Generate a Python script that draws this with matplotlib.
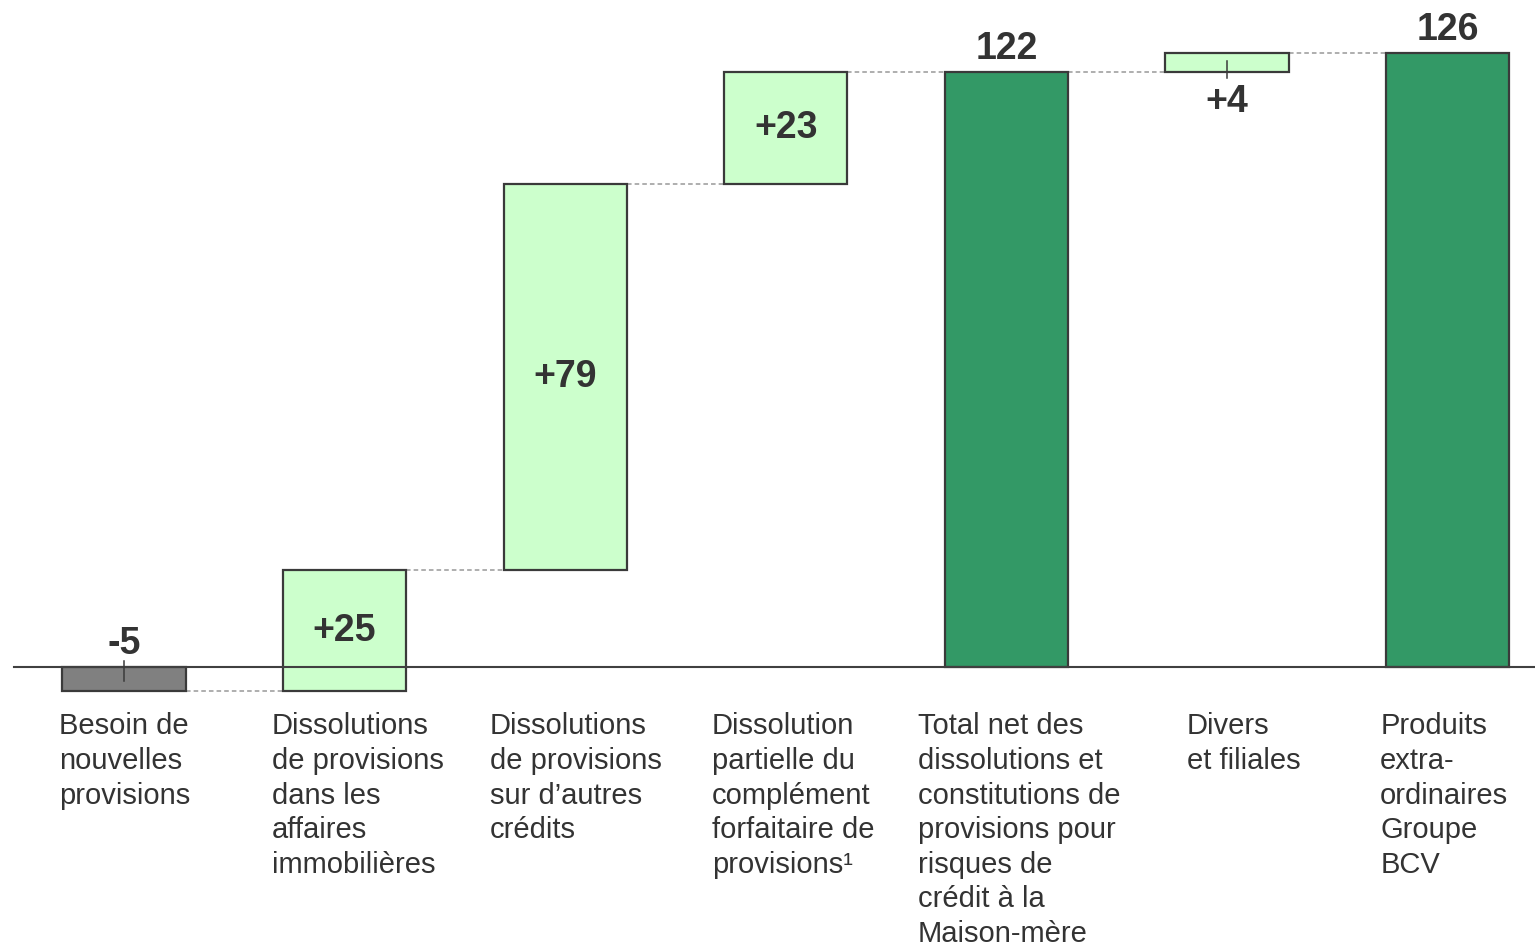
import numpy as np
import matplotlib
matplotlib.use("Agg")
import matplotlib.pyplot as plt

plt.rcParams['font.family'] = ['Liberation Sans', 'DejaVu Sans']

# ---------------- DATA ----------------
categories = [
    "Besoin de\nnouvelles\nprovisions",
    "Dissolutions\nde provisions\ndans les\naffaires\nimmobilières",
    "Dissolutions\nde provisions\nsur d\u2019autres\ncrédits",
    "Dissolution\npartielle du\ncomplément\nforfaitaire de\nprovisions\u00b9",
    "Total net des\ndissolutions et\nconstitutions de\nprovisions pour\nrisques de\ncrédit à la\nMaison-mère",
    "Divers\net filiales",
    "Produits\nextra-\nordinaires\nGroupe\nBCV",
]
values = [-5, 25, 79, 23, 122, 4, 126]
is_total = [False, False, False, False, True, False, True]
value_labels = ["-5", "+25", "+79", "+23", "122", "+4", "126"]

# ---------------- STYLE ----------------
LIGHT = "#CCFFCC"
DARK = "#339966"
GREY = "#808080"
EDGE = "#3a3a3a"
TEXT = "#333333"
BAR_W = 0.558
LABEL_DX = [-0.295, -0.329, -0.341, -0.335, -0.401, -0.181, -0.306]

# ---------------- WATERFALL ----------------
bottoms, tops = [], []
level = 0
for v, tot in zip(values, is_total):
    if tot:
        b, t = 0, v
        level = v
    else:
        b, t = level, level + v
        level = level + v
    bottoms.append(min(b, t))
    tops.append(max(b, t))

fig = plt.figure(figsize=(15.35, 9.47), dpi=100)
ax = fig.add_axes([0, 0, 1, 1])
ax.set_xlim(-0.562, 6.396)
ax.set_ylim(-57.4, 136.8)
ax.axis('off')

x = np.arange(len(values))
colors = []
for v, tot in zip(values, is_total):
    if tot:
        colors.append(DARK)
    elif v < 0:
        colors.append(GREY)
    else:
        colors.append(LIGHT)

heights = [t - b for b, t in zip(bottoms, tops)]
ax.bar(x, heights, bottom=bottoms, width=BAR_W, color=colors,
       edgecolor=EDGE, linewidth=1.6, zorder=3)

# baseline
ax.axhline(0, xmin=14 / 1535, xmax=1, color="#404040", linewidth=1.5, zorder=4)

# dashed connectors
run = 0
for i in range(len(values) - 1):
    end = values[i] if is_total[i] else run + values[i]
    run = end
    ax.plot([x[i] + BAR_W / 2, x[i + 1] - BAR_W / 2], [end, end],
            color="#999999", linestyle=(0, (3, 2)), linewidth=1.1, zorder=2)

# value labels (+ small leader ticks on the thin bars)
for i, (v, lab) in enumerate(zip(values, value_labels)):
    mid = (bottoms[i] + tops[i]) / 2
    if is_total[i]:
        ax.text(x[i], tops[i] + 1.0, lab, ha='center', va='bottom',
                fontsize=27, fontweight='bold', color=TEXT, zorder=6)
    elif v < 0:
        ax.plot([x[i], x[i]], [mid - 0.4, tops[i] + 1.2], color=EDGE,
                linewidth=1.1, zorder=5)
        ax.text(x[i], tops[i] + 1.0, lab, ha='center', va='bottom',
                fontsize=27, fontweight='bold', color=TEXT, zorder=6)
    elif v <= 5:
        ax.plot([x[i], x[i]], [mid + 0.2, bottoms[i] - 1.2], color=EDGE,
                linewidth=1.1, zorder=5)
        ax.text(x[i], bottoms[i] - 2.4, lab, ha='center', va='top',
                fontsize=27, fontweight='bold', color=TEXT, zorder=6)
    else:
        ax.text(x[i], mid, lab, ha='center', va='center',
                fontsize=27, fontweight='bold', color=TEXT, zorder=6)

# category labels
for i, cat in enumerate(categories):
    ax.text(x[i] + LABEL_DX[i], -9.3, cat, ha='left', va='top',
            fontsize=21, color=TEXT, linespacing=1.30)

fig.savefig("out.png", dpi=100)
